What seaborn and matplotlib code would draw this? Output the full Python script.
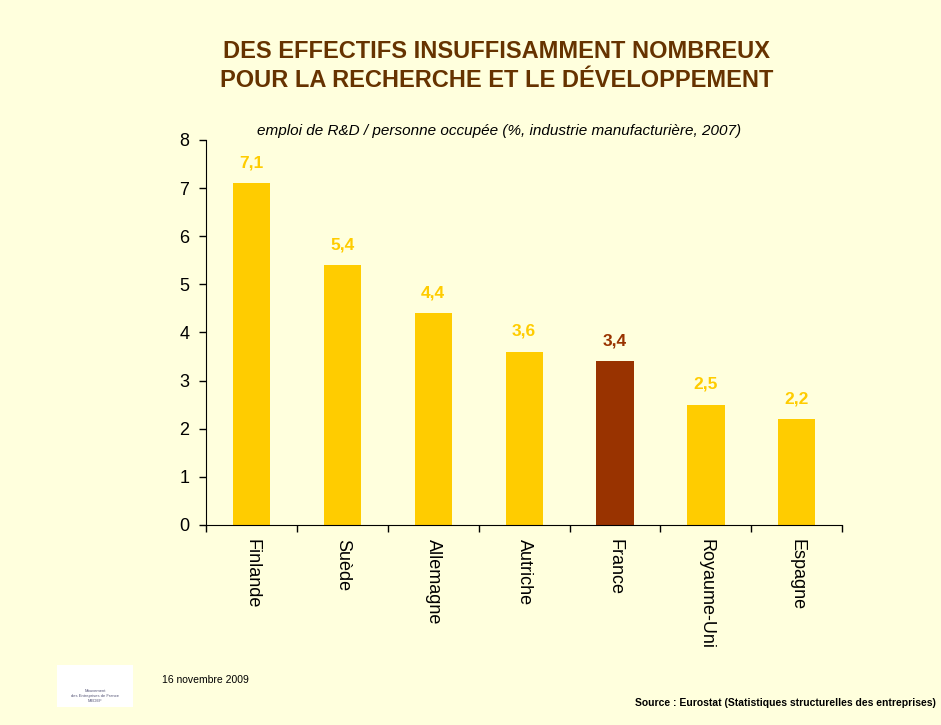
import matplotlib
matplotlib.use("Agg")
import matplotlib.pyplot as plt
import seaborn as sns
import pandas as pd
from matplotlib.patches import Rectangle

# Data
countries = ["Finlande", "Suède", "Allemagne", "Autriche", "France", "Royaume-Uni", "Espagne"]
values = [7.1, 5.4, 4.4, 3.6, 3.4, 2.5, 2.2]
labels = ["7,1", "5,4", "4,4", "3,6", "3,4", "2,5", "2,2"]

gold = "#FFCC00"
brown = "#993300"
bg = "#FFFFDD"
colors = [brown if c == "France" else gold for c in countries]

df = pd.DataFrame({"pays": countries, "valeur": values})

sns.set_style("ticks", {"axes.edgecolor": "black", "text.color": "black",
                        "xtick.color": "black", "ytick.color": "black"})
plt.rcParams["font.family"] = ["Liberation Sans", "DejaVu Sans"]

fig = plt.figure(figsize=(9.41, 7.25), dpi=100, facecolor=bg)
ax = fig.add_axes([0.219, 0.276, 0.676, 0.531], facecolor=bg)

sns.barplot(data=df, x="pays", y="valeur", hue="pays", palette=colors,
            width=0.41, legend=False, ax=ax, saturation=1, linewidth=0)

for i, (v, lab) in enumerate(zip(values, labels)):
    ax.text(i, v + 0.27, lab, ha="center", va="bottom", fontsize=12.5,
            fontweight="bold", color=colors[i])

ax.set_ylim(0, 8)
ax.set_xlim(-0.5, len(countries) - 0.5)
ax.set_yticks(range(0, 9))
ax.tick_params(axis="y", labelsize=13, length=5, width=1, direction="out", pad=7)
ax.set_xticks(range(len(countries)))
ax.set_xticklabels(countries, rotation=270, fontsize=13)
ax.tick_params(axis="x", which="major", length=0, pad=10)
ax.set_xticks([i - 0.5 for i in range(len(countries) + 1)], minor=True)
ax.tick_params(axis="x", which="minor", length=5, width=1, direction="out")
ax.set_xlabel("")
ax.set_ylabel("")
sns.despine(ax=ax)

fig.text(0.528, 0.909, "DES EFFECTIFS INSUFFISAMMENT NOMBREUX\nPOUR LA RECHERCHE ET LE DÉVELOPPEMENT",
         ha="center", va="center", fontsize=17, fontweight="bold", color="#663300",
         linespacing=1.32)
fig.text(0.53, 0.82, "emploi de R&D / personne occupée (%, industrie manufacturière, 2007)",
         ha="center", va="center", fontsize=11, style="italic")

fig.text(0.172, 0.062, "16 novembre 2009", fontsize=7.5, va="center")
fig.text(0.995, 0.03, "Source : Eurostat (Statistiques structurelles des entreprises)",
         fontsize=7.5, fontweight="bold", ha="right", va="center")

# logo placeholder
fig.patches.append(Rectangle((0.061, 0.025), 0.08, 0.058, transform=fig.transFigure,
                             facecolor="white", edgecolor="none"))
fig.text(0.101, 0.04, "Mouvement\ndes Entreprises de France\nMEDEF", fontsize=3,
         ha="center", va="center", color="#555577")

fig.savefig("out.png", dpi=100, facecolor=bg)
